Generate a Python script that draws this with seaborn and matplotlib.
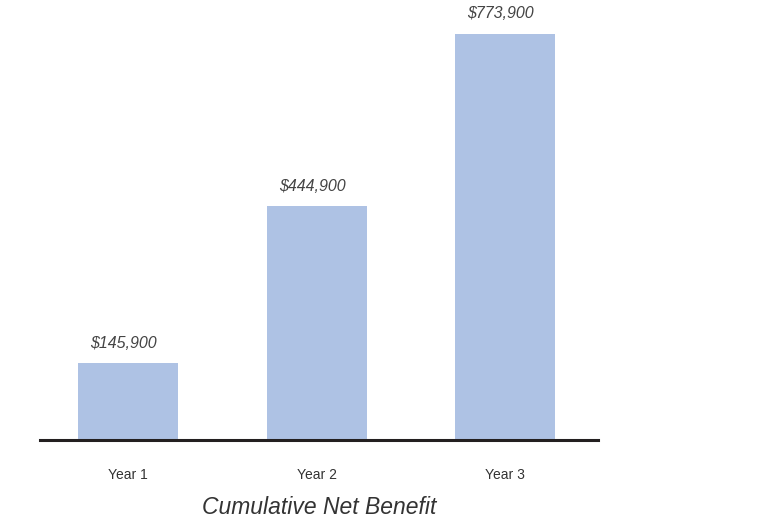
import matplotlib
matplotlib.use("Agg")
import matplotlib.pyplot as plt
import seaborn as sns
import pandas as pd

categories = ["Year 1", "Year 2", "Year 3"]
values = [145900, 444900, 773900]
value_labels = ["$145,900", "$444,900", "$773,900"]
title = "Cumulative Net Benefit"

sns.set_theme(style="white")
plt.rcParams['font.family'] = ['Liberation Sans', 'DejaVu Sans']

df = pd.DataFrame({"cat": categories, "val": values})

fig = plt.figure(figsize=(7.68, 5.2), dpi=100)
ax = fig.add_axes([40/768, 80/520, 558/768, 420/520])
sns.barplot(data=df, x="cat", y="val", color="#AEC2E4", saturation=1,
            width=0.53, linewidth=0, ax=ax)
ax.set_xlim(-0.467, 2.493)
ax.set_ylim(0, 800000)

for i, (v, lab) in enumerate(zip(values, value_labels)):
    ax.annotate(lab, (i, v), xytext=(-3, 9), textcoords="offset points",
                ha="center", va="bottom", fontsize=11.5, style="italic",
                color="#444444")

for s in ["top", "right", "left"]:
    ax.spines[s].set_visible(False)
ax.spines["bottom"].set_color("#231F20")
ax.spines["bottom"].set_linewidth(2.2)
ax.set_yticks([])
ax.set_xlabel("")
ax.set_ylabel("")
ax.tick_params(axis="x", length=0, pad=20, labelsize=10, labelcolor="#333333")

fig.text(319/768, 1 - 508/520, title, ha="center", va="center",
         fontsize=16.5, style="italic", color="#333333")

fig.savefig("out.png", dpi=100)
